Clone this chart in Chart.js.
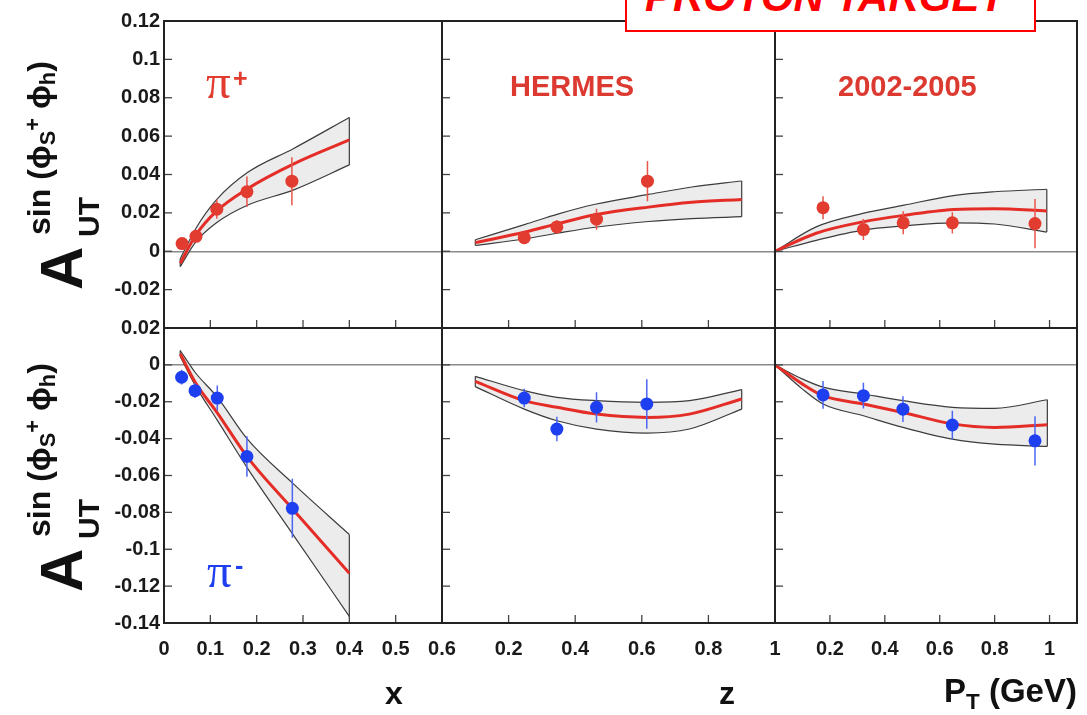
<!DOCTYPE html>
<html><head><meta charset="utf-8">
<script src="https://cdn.jsdelivr.net/npm/chart.js@4.4.1/dist/chart.umd.min.js"></script>
<style>
html,body{margin:0;padding:0;background:#fff;}
body{width:1087px;height:715px;position:relative;overflow:hidden;font-family:"Liberation Sans",Arial,sans-serif;}
#plots canvas{position:absolute;}
.lbl{position:absolute;white-space:nowrap;line-height:1;font-weight:bold;}
.ytitle{position:absolute;width:0;height:0;transform-origin:0 0;transform:rotate(-90deg);font-weight:bold;color:#111;}
.ytitle span{position:absolute;white-space:nowrap;line-height:1;}
.ytitle sub,.ytitle sup,.lbl sub{font-size:0.68em;line-height:0;}
.ytitle sub{vertical-align:-0.25em;}
.ytitle sup{vertical-align:0.45em;}
</style></head><body>
<div id="plots"></div>

<div class="ytitle" style="left:14px;top:290px">
  <span style="left:0px;top:18px;font-size:60px">A</span>
  <span style="left:53px;top:60px;font-size:30px">UT</span>
  <span style="left:55px;top:9px;font-size:32px">sin (ϕ<sub>S</sub><sup>+</sup> ϕ<sub>h</sub>)</span>
</div>
<div class="ytitle" style="left:14px;top:592px">
  <span style="left:0px;top:18px;font-size:60px">A</span>
  <span style="left:53px;top:60px;font-size:30px">UT</span>
  <span style="left:55px;top:9px;font-size:32px">sin (ϕ<sub>S</sub><sup>+</sup> ϕ<sub>h</sub>)</span>
</div>

<div class="lbl" style="left:206px;top:57px;color:#e23b30;font-family:'Liberation Serif',serif;font-weight:normal;font-size:49px">π</div>
<div class="lbl" style="left:233px;top:66px;color:#e23b30;font-size:25px">+</div>
<div class="lbl" style="left:207px;top:546px;color:#1e3ff0;font-family:'Liberation Serif',serif;font-weight:normal;font-size:49px">π</div>
<div class="lbl" style="left:235px;top:553px;color:#1e3ff0;font-size:25px">-</div>
<div class="lbl" style="left:510px;top:72px;color:#dc3a30;font-size:29px">HERMES</div>
<div class="lbl" style="left:838px;top:72px;color:#dc3a30;font-size:29px">2002-2005</div>

<div class="lbl" style="left:374px;width:40px;text-align:center;top:677px;font-size:32px;color:#111">x</div>
<div class="lbl" style="left:707px;width:40px;text-align:center;top:677px;font-size:32px;color:#111">z</div>
<div class="lbl" style="left:944px;top:674px;font-size:33px;color:#111">P<sub style="vertical-align:-0.3em">T</sub> (GeV)</div>

<div style="position:absolute;left:625px;top:-22px;width:407px;height:50px;border:2px solid #ff0000;background:#fff;"></div>
<div class="lbl" style="left:645px;top:-24px;font-size:42px;font-style:italic;color:#ff0000">PROTON TARGET</div>

<script>
// ---------- DATA ----------
const yRangeTop = [-0.04, 0.12];
const yRangeBot = [-0.14, 0.02];
const xRangeX = [0, 0.6];
const xRangeZ = [0, 1];
const xRangePT = [0, 1.1];

const yTicksTop = [-0.04,-0.02,0,0.02,0.04,0.06,0.08,0.1,0.12];
const yLabelsTop = ['','-0.02','0','0.02','0.04','0.06','0.08','0.1','0.12'];
const yTicksBot = [-0.14,-0.12,-0.1,-0.08,-0.06,-0.04,-0.02,0,0.02];
const yLabelsBot = ['-0.14','-0.12','-0.1','-0.08','-0.06','-0.04','-0.02','0','0.02'];
const xTicksX = [0,0.1,0.2,0.3,0.4,0.5,0.6];
const xLabelsX = ['0','0.1','0.2','0.3','0.4','0.5','0.6'];
const xTicksZ = [0,0.2,0.4,0.6,0.8,1];
const xLabelsZ = ['','0.2','0.4','0.6','0.8','1'];
const xTicksPT = [0,0.2,0.4,0.6,0.8,1];
const xLabelsPT = ['','0.2','0.4','0.6','0.8','1'];

// pi+ vs x
const pipX_x   = [0.039, 0.069, 0.114, 0.179, 0.276];
const pipX_y   = [0.0040, 0.0078, 0.0219, 0.0310, 0.0365];
const pipX_err = [0.0030, 0.0030, 0.0050, 0.0080, 0.0125];
const pipX_band = [0.035, 0.069, 0.114, 0.18, 0.28, 0.40];
const pipX_mid  = [-0.0063, 0.0085, 0.0210, 0.0325, 0.0455, 0.0580];
const pipX_up   = [-0.0040, 0.0120, 0.0270, 0.0410, 0.0536, 0.0697];
const pipX_lo   = [-0.0080, 0.0050, 0.0150, 0.0240, 0.0320, 0.0450];

// pi+ vs z
const pipZ_x   = [0.247, 0.345, 0.464, 0.617];
const pipZ_y   = [0.0071, 0.0127, 0.0167, 0.0365];
const pipZ_err = [0.0030, 0.0035, 0.0055, 0.0105];
const pipZ_band = [0.10, 0.25, 0.35, 0.46, 0.62, 0.75, 0.90];
const pipZ_mid  = [0.0045, 0.0100, 0.0145, 0.0190, 0.0230, 0.0255, 0.0270];
const pipZ_up   = [0.0060, 0.0140, 0.0195, 0.0245, 0.0296, 0.0335, 0.0366];
const pipZ_lo   = [0.0030, 0.0065, 0.0095, 0.0125, 0.0155, 0.0170, 0.0180];

// pi+ vs PT
const pipP_x   = [0.175, 0.322, 0.467, 0.646, 0.947];
const pipP_y   = [0.0227, 0.0113, 0.0148, 0.0148, 0.0144];
const pipP_err = [0.0060, 0.0055, 0.0060, 0.0055, 0.0128];
const pipP_band = [0.0, 0.15, 0.32, 0.47, 0.65, 0.80, 0.99];
const pipP_mid  = [0.0, 0.0094, 0.0153, 0.0187, 0.0217, 0.0222, 0.0210];
const pipP_up   = [0.0, 0.0127, 0.0197, 0.0240, 0.0290, 0.0310, 0.0323];
const pipP_lo   = [0.0, 0.0057, 0.0110, 0.0132, 0.0148, 0.0142, 0.0100];

// pi- vs x
const pimX_x   = [0.038, 0.067, 0.115, 0.179, 0.277];
const pimX_y   = [-0.0067, -0.0140, -0.0180, -0.0497, -0.0778];
const pimX_err = [0.0040, 0.0040, 0.0068, 0.0110, 0.0160];
const pimX_band = [0.035, 0.067, 0.115, 0.18, 0.277, 0.40];
const pimX_mid  = [0.0060, -0.0093, -0.0260, -0.0500, -0.0780, -0.1130];
const pimX_up   = [0.0078, -0.0040, -0.0175, -0.0403, -0.0640, -0.0920];
const pimX_lo   = [0.0045, -0.0110, -0.0300, -0.0560, -0.0915, -0.1364];

// pi- vs z
const pimZ_x   = [0.247, 0.345, 0.464, 0.615];
const pimZ_y   = [-0.0180, -0.0348, -0.0230, -0.0212];
const pimZ_err = [0.0050, 0.0066, 0.0082, 0.0134];
const pimZ_band = [0.10, 0.247, 0.345, 0.464, 0.615, 0.743, 0.90];
const pimZ_mid  = [-0.0089, -0.0194, -0.0230, -0.0267, -0.0285, -0.0267, -0.0185];
const pimZ_up   = [-0.0062, -0.0140, -0.0176, -0.0194, -0.0203, -0.0194, -0.0134];
const pimZ_lo   = [-0.0118, -0.0240, -0.0303, -0.0348, -0.0370, -0.0348, -0.0240];

// pi- vs PT
const pimP_x   = [0.175, 0.322, 0.466, 0.646, 0.947];
const pimP_y   = [-0.0163, -0.0167, -0.0240, -0.0326, -0.0412];
const pimP_err = [0.0075, 0.0070, 0.0070, 0.0077, 0.0134];
const pimP_band = [0.0, 0.099, 0.175, 0.322, 0.466, 0.646, 0.80, 0.992];
const pimP_mid  = [0.0, -0.0103, -0.0167, -0.0212, -0.0258, -0.0320, -0.0339, -0.0325];
const pimP_up   = [0.0, -0.0076, -0.0121, -0.0158, -0.0194, -0.0230, -0.0236, -0.0189];
const pimP_lo   = [0.0, -0.0130, -0.0212, -0.0276, -0.0339, -0.0403, -0.0430, -0.0442];

// ---------- STYLE / LAYOUT ----------
const RED = '#e23b30', RED_ERR = '#e8564d', BLUE = '#1e3ff0', BLUE_ERR = '#4d66f2';
const CURVE = '#e52d27', BAND_FILL = '#ececec', BAND_EDGE = '#3c3c3c';
const ML = 80, MR = 30, MT = 20, MB = 60;
const colEdges = [164, 442, 775, 1077], rowEdges = [21, 328, 623];

Chart.defaults.font.family = "'Liberation Sans', Arial, sans-serif";

const framePlugin = {
  id: 'frame',
  afterDatasetsDraw(chart) {
    const {ctx, chartArea: a, scales: {x, y}} = chart;
    ctx.save();
    ctx.strokeStyle = '#444'; ctx.lineWidth = 1.3;
    x.ticks.forEach(t => { const p = x.getPixelForValue(t.value); ctx.beginPath(); ctx.moveTo(p, a.bottom); ctx.lineTo(p, a.bottom - 8); ctx.stroke(); });
    y.ticks.forEach(t => { const p = y.getPixelForValue(t.value); ctx.beginPath(); ctx.moveTo(a.left, p); ctx.lineTo(a.left + 8, p); ctx.stroke(); });
    ctx.strokeStyle = '#222'; ctx.lineWidth = 2;
    ctx.strokeRect(a.left, a.top, a.right - a.left, a.bottom - a.top);
    ctx.restore();
  }
};

function pts(xs, ys) { return xs.map((x, i) => ({x, y: ys[i]})); }
function errPts(xs, ys, es) {
  const out = [];
  xs.forEach((x, i) => { out.push({x, y: ys[i] - es[i]}, {x, y: ys[i] + es[i]}, {x, y: null}); });
  return out;
}

function makePanel(col, row, p) {
  const cv = document.createElement('canvas');
  const w = colEdges[col + 1] - colEdges[col] + ML + MR;
  const h = rowEdges[row + 1] - rowEdges[row] + MT + MB;
  cv.width = w; cv.height = h;
  cv.style.left = (colEdges[col] - ML) + 'px';
  cv.style.top = (rowEdges[row] - MT) + 'px';
  cv.style.width = w + 'px'; cv.style.height = h + 'px';
  document.getElementById('plots').appendChild(cv);
  const n = p.band.length - 1;
  const edge = {borderColor: BAND_EDGE, borderWidth: 1.2, pointRadius: 0, fill: false};
  const tickFont = {size: 20, weight: 'bold'};
  new Chart(cv, {
    type: 'line',
    data: {datasets: [
      Object.assign({data: pts(p.band, p.up), backgroundColor: BAND_FILL, cubicInterpolationMode: 'monotone', order: 5}, edge, {fill: '+1'}),
      Object.assign({data: pts(p.band, p.lo), cubicInterpolationMode: 'monotone', order: 4}, edge),
      Object.assign({data: [{x: p.band[0], y: p.up[0]}, {x: p.band[0], y: p.lo[0]}], order: 3}, edge),
      Object.assign({data: [{x: p.band[n], y: p.up[n]}, {x: p.band[n], y: p.lo[n]}], order: 3}, edge),
      {data: pts(p.band, p.mid), borderColor: CURVE, borderWidth: 3, pointRadius: 0, fill: false, cubicInterpolationMode: 'monotone', order: 2},
      {data: errPts(p.x, p.y, p.err), borderColor: p.errColor, borderWidth: 1.5, pointRadius: 0, fill: false, spanGaps: false, order: 1},
      {data: pts(p.x, p.y), showLine: false, pointRadius: 6.5, pointBackgroundColor: p.color, pointBorderWidth: 0, borderColor: p.color, order: 0}
    ]},
    options: {
      responsive: false, animation: false, devicePixelRatio: 1,
      layout: {padding: {left: 0, right: MR, top: MT, bottom: 0}},
      plugins: {legend: {display: false}, tooltip: {enabled: false}},
      scales: {
        x: {
          type: 'linear', position: 'bottom', min: p.xr[0], max: p.xr[1],
          afterBuildTicks: s => { s.ticks = p.xt.map(v => ({value: v})); },
          afterFit: s => { s.height = MB; s.paddingLeft = 0; s.paddingRight = 0; },
          grid: {display: false, drawTicks: false}, border: {display: false},
          ticks: {display: row === 1, font: tickFont, color: '#1a1a1a', padding: 14, maxRotation: 0, autoSkip: false,
                  callback: (v, i) => p.xl[i]}
        },
        y: {
          type: 'linear', position: 'left', min: p.yr[0], max: p.yr[1],
          afterBuildTicks: s => { s.ticks = p.yt.map(v => ({value: v})); },
          afterFit: s => { s.width = ML; s.paddingTop = 0; s.paddingBottom = 0; },
          grid: {display: true, drawTicks: false, lineWidth: 1.5,
                 color: c => (c.tick && Math.abs(c.tick.value) < 1e-9) ? '#8a8a8a' : 'rgba(0,0,0,0)'},
          border: {display: false},
          ticks: {display: col === 0, font: tickFont, color: '#1a1a1a', padding: 4, autoSkip: false,
                  callback: (v, i) => p.yl[i]}
        }
      }
    },
    plugins: [framePlugin]
  });
}

const rowTopCfg = {yr: yRangeTop, yt: yTicksTop, yl: yLabelsTop, color: RED, errColor: RED_ERR};
const rowBotCfg = {yr: yRangeBot, yt: yTicksBot, yl: yLabelsBot, color: BLUE, errColor: BLUE_ERR};
const colXCfg = {xr: xRangeX, xt: xTicksX, xl: xLabelsX};
const colZCfg = {xr: xRangeZ, xt: xTicksZ, xl: xLabelsZ};
const colPCfg = {xr: xRangePT, xt: xTicksPT, xl: xLabelsPT};

makePanel(0, 0, Object.assign({x: pipX_x, y: pipX_y, err: pipX_err, band: pipX_band, mid: pipX_mid, up: pipX_up, lo: pipX_lo}, rowTopCfg, colXCfg));
makePanel(1, 0, Object.assign({x: pipZ_x, y: pipZ_y, err: pipZ_err, band: pipZ_band, mid: pipZ_mid, up: pipZ_up, lo: pipZ_lo}, rowTopCfg, colZCfg));
makePanel(2, 0, Object.assign({x: pipP_x, y: pipP_y, err: pipP_err, band: pipP_band, mid: pipP_mid, up: pipP_up, lo: pipP_lo}, rowTopCfg, colPCfg));
makePanel(0, 1, Object.assign({x: pimX_x, y: pimX_y, err: pimX_err, band: pimX_band, mid: pimX_mid, up: pimX_up, lo: pimX_lo}, rowBotCfg, colXCfg));
makePanel(1, 1, Object.assign({x: pimZ_x, y: pimZ_y, err: pimZ_err, band: pimZ_band, mid: pimZ_mid, up: pimZ_up, lo: pimZ_lo}, rowBotCfg, colZCfg));
makePanel(2, 1, Object.assign({x: pimP_x, y: pimP_y, err: pimP_err, band: pimP_band, mid: pimP_mid, up: pimP_up, lo: pimP_lo}, rowBotCfg, colPCfg));
</script>
</body></html>
